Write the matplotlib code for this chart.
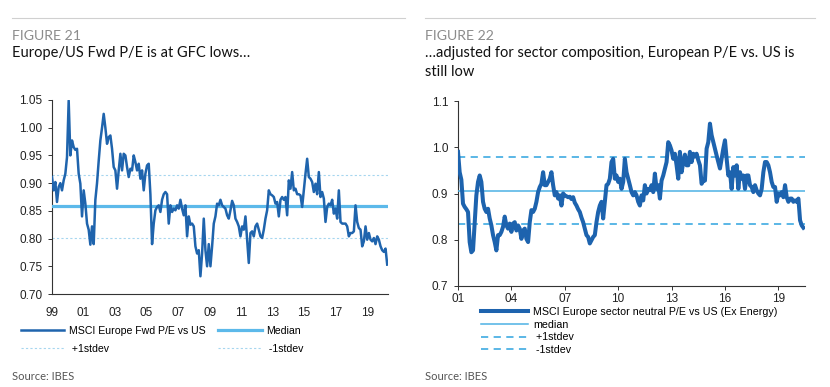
import numpy as np
import matplotlib.pyplot as plt
from matplotlib.lines import Line2D
from matplotlib.ticker import FormatStrFormatter

# Figure 21: MSCI Europe fwd P/E vs US, even steps from Jan 1999 to Apr 2020
eu_us_pe = [
    0.911, 0.887, 0.902, 0.866, 0.893, 0.900, 0.887, 0.905, 0.917, 0.947,
    1.049, 0.950, 0.977, 0.965, 0.960, 0.962, 0.917, 0.899, 0.840, 0.887,
    0.863, 0.827, 0.816, 0.789, 0.822, 0.790, 0.870, 0.900, 0.940, 0.977,
    1.000, 1.025, 1.000, 0.971, 0.983, 0.986, 0.962, 0.929, 0.923, 0.890,
    0.923, 0.953, 0.923, 0.953, 0.950, 0.929, 0.911, 0.926, 0.923, 0.950,
    0.938, 0.923, 0.935, 0.908, 0.923, 0.887, 0.917, 0.932, 0.935, 0.880,
    0.790, 0.827, 0.851, 0.857, 0.860, 0.848, 0.870, 0.880, 0.884, 0.880,
    0.827, 0.860, 0.848, 0.854, 0.851, 0.860, 0.854, 0.870, 0.854, 0.842,
    0.860, 0.804, 0.840, 0.825, 0.827, 0.822, 0.786, 0.773, 0.779, 0.732,
    0.773, 0.836, 0.779, 0.750, 0.790, 0.750, 0.786, 0.827, 0.840, 0.863,
    0.860, 0.870, 0.860, 0.857, 0.854, 0.842, 0.836, 0.851, 0.868, 0.860,
    0.836, 0.830, 0.822, 0.804, 0.822, 0.816, 0.840, 0.798, 0.756, 0.810,
    0.813, 0.804, 0.822, 0.827, 0.816, 0.804, 0.801, 0.816, 0.836, 0.851,
    0.887, 0.880, 0.878, 0.875, 0.863, 0.866, 0.840, 0.870, 0.875, 0.870,
    0.875, 0.842, 0.905, 0.890, 0.920, 0.887, 0.890, 0.880, 0.880, 0.878,
    0.857, 0.887, 0.917, 0.944, 0.911, 0.908, 0.902, 0.884, 0.899, 0.880,
    0.920, 0.875, 0.884, 0.872, 0.830, 0.857, 0.863, 0.860, 0.870, 0.845,
    0.854, 0.836, 0.887, 0.830, 0.827, 0.827, 0.827, 0.822, 0.804, 0.810,
    0.810, 0.813, 0.860, 0.830, 0.819, 0.816, 0.786, 0.795, 0.822, 0.798,
    0.810, 0.798, 0.795, 0.801, 0.790, 0.804, 0.798, 0.786, 0.779, 0.776,
    0.782, 0.753,
]
eu_us_start, eu_us_end = 1999.0, 2020.27
eu_us_median = 0.858
eu_us_plus_sd = 0.915
eu_us_minus_sd = 0.801
left_ticks = [1999, 2001, 2003, 2005, 2007, 2009, 2011, 2013, 2015, 2017, 2019]
left_labels = ['99', '01', '03', '05', '07', '09', '11', '13', '15', '17', '19']
left_yticks = [0.70, 0.75, 0.80, 0.85, 0.90, 0.95, 1.00, 1.05]

# Figure 22: sector neutral P/E vs US (ex energy), Jan 2001 to May 2020
sector_neutral_pe = [
    0.990, 0.946, 0.930, 0.878, 0.871, 0.866, 0.860, 0.795, 0.773, 0.777,
    0.838, 0.896, 0.925, 0.939, 0.925, 0.882, 0.867, 0.860, 0.867, 0.846,
    0.831, 0.810, 0.795, 0.777, 0.810, 0.810, 0.817, 0.828, 0.850, 0.831,
    0.824, 0.835, 0.817, 0.835, 0.838, 0.820, 0.831, 0.824, 0.802, 0.820,
    0.824, 0.802, 0.795, 0.838, 0.864, 0.860, 0.867, 0.882, 0.903, 0.914,
    0.921, 0.946, 0.918, 0.918, 0.925, 0.932, 0.946, 0.918, 0.896, 0.903,
    0.889, 0.896, 0.874, 0.900, 0.896, 0.894, 0.892, 0.893, 0.888, 0.892,
    0.880, 0.874, 0.866, 0.860, 0.848, 0.838, 0.824, 0.810, 0.806, 0.792,
    0.799, 0.806, 0.810, 0.838, 0.860, 0.874, 0.882, 0.846, 0.882, 0.918,
    0.921, 0.932, 0.968, 0.975, 0.932, 0.939, 0.925, 0.932, 0.910, 0.925,
    0.975, 0.946, 0.932, 0.918, 0.903, 0.896, 0.903, 0.896, 0.882, 0.874,
    0.896, 0.885, 0.918, 0.900, 0.910, 0.907, 0.918, 0.903, 0.943, 0.910,
    0.918, 0.889, 0.928, 0.939, 0.954, 0.968, 1.011, 1.004, 0.993, 0.975,
    0.986, 0.961, 0.932, 0.990, 0.946, 0.968, 0.984, 0.961, 0.961, 0.990,
    0.968, 0.986, 0.980, 0.986, 0.972, 0.961, 0.921, 0.928, 0.928, 0.997,
    1.011, 1.051, 1.026, 1.011, 0.997, 0.982, 0.968, 0.954, 0.975, 0.997,
    1.015, 0.975, 0.939, 0.946, 0.910, 0.957, 0.939, 0.961, 0.910, 0.946,
    0.932, 0.939, 0.910, 0.939, 0.939, 0.918, 0.914, 0.903, 0.918, 0.907,
    0.900, 0.896, 0.910, 0.946, 0.968, 0.968, 0.961, 0.946, 0.925, 0.914,
    0.914, 0.882, 0.900, 0.896, 0.903, 0.892, 0.918, 0.892, 0.882, 0.889,
    0.889, 0.882, 0.885, 0.882, 0.889, 0.842, 0.831, 0.826,
]
sn_start, sn_end = 2001.0, 2020.41
sn_median = 0.906
sn_plus_sd = 0.980
sn_minus_sd = 0.835
right_ticks = [2001, 2004, 2007, 2010, 2013, 2016, 2019]
right_labels = ['01', '04', '07', '10', '13', '16', '19']
right_yticks = [0.7, 0.8, 0.9, 1.0, 1.1]

W, H = 830, 387
tick_font = 'Liberation Sans'
head_font = 'Lato'

fig = plt.figure(figsize=(W / 100, H / 100), dpi=100)


def fx(px):
    return px / W


def fy(py):
    return 1 - py / H


def header(x0, x1, fig_label, title_lines, source):
    fig.add_artist(Line2D([fx(x0), fx(x1)], [fy(18), fy(18)],
                          color='#d0d0d0', lw=0.8))
    fig.text(fx(x0), fy(36), fig_label, family=head_font, fontsize=10.2,
             color='#8c8c8c', va='center')
    for i, line in enumerate(title_lines):
        fig.text(fx(x0), fy(53 + 19 * i), line, family=head_font,
                 fontsize=10.5, color='#111111', va='center')
    fig.text(fx(x0), fy(377), source, family=head_font, fontsize=8,
             color='#555555', va='center')


def style_axes(ax, xtick_len, xpad):
    for s in ['top', 'right']:
        ax.spines[s].set_visible(False)
    for s in ['left', 'bottom']:
        ax.spines[s].set_color('#333333')
        ax.spines[s].set_linewidth(0.8)
    ax.tick_params(axis='y', direction='out', length=3, width=0.7,
                   color='#333333', pad=4)
    ax.tick_params(axis='x', direction='out', length=xtick_len, width=0.7,
                   color='#333333', pad=xpad)
    for lab in ax.get_xticklabels() + ax.get_yticklabels():
        lab.set_family(tick_font)
        lab.set_fontsize(8.5)
        lab.set_color('#222222')


# ---- Figure 21 ----
header(12, 405, 'FIGURE 21', ['Europe/US Fwd P/E is at GFC lows…'],
       'Source: IBES')

ax1 = fig.add_axes([fx(52), fy(294), fx(388) - fx(52), fy(100) - fy(294)])
x1 = np.linspace(eu_us_start, eu_us_end, len(eu_us_pe))
l_pe, = ax1.plot(x1, eu_us_pe, color='#1f64ad', lw=1.8, zorder=4)
l_med = ax1.axhline(eu_us_median, color='#5cb9ea', lw=2.3, zorder=3)
l_up = ax1.axhline(eu_us_plus_sd, color='#a6d6ef', lw=0.8,
                   ls=(0, (2, 2)), zorder=2)
l_dn = ax1.axhline(eu_us_minus_sd, color='#a6d6ef', lw=0.8,
                   ls=(0, (2, 2)), zorder=2)
ax1.set_xlim(eu_us_start, eu_us_end + 0.05)
ax1.set_ylim(0.70, 1.05)
ax1.set_xticks(left_ticks)
ax1.set_xticklabels(left_labels)
ax1.set_yticks(left_yticks)
ax1.yaxis.set_major_formatter(FormatStrFormatter('%.2f'))
style_axes(ax1, 0, 9)

fig.legend([l_pe, l_up, l_med, l_dn],
           ['MSCI Europe Fwd P/E vs US', ' +1stdev', 'Median', ' -1stdev'],
           ncol=2, loc='upper left', bbox_to_anchor=(fx(21), fy(326)),
           frameon=False, borderpad=0, borderaxespad=0, handlelength=4.1,
           handletextpad=0.45, columnspacing=1.2, labelspacing=0.75,
           prop={'family': tick_font, 'size': 7.6})

# ---- Figure 22 ----
header(425, 815, 'FIGURE 22',
       ['…adjusted for sector composition, European P/E vs. US is',
        'still low'],
       'Source: IBES')

ax2 = fig.add_axes([fx(458), fy(286), fx(805) - fx(458), fy(101) - fy(286)])
x2 = np.linspace(sn_start, sn_end, len(sector_neutral_pe))
r_pe, = ax2.plot(x2, sector_neutral_pe, color='#1d63ae', lw=2.9, zorder=4,
                 solid_joinstyle='round')
r_med = ax2.axhline(sn_median, color='#4db1e4', lw=1.1, zorder=3)
r_up = ax2.axhline(sn_plus_sd, color='#4db1e4', lw=1.3,
                   ls=(0, (4, 3)), zorder=2)
r_dn = ax2.axhline(sn_minus_sd, color='#4db1e4', lw=1.3,
                   ls=(0, (4, 3)), zorder=2)
ax2.set_xlim(sn_start, 2020.5)
ax2.set_ylim(0.7, 1.1)
ax2.set_xticks(right_ticks)
ax2.set_xticklabels(right_labels)
ax2.set_yticks(right_yticks)
ax2.yaxis.set_major_formatter(FormatStrFormatter('%.1f'))
style_axes(ax2, 3, 2)

fig.legend([r_pe, r_med, r_up, r_dn],
           ['MSCI Europe sector neutral P/E vs US (Ex Energy)', 'median',
            ' +1stdev', ' -1stdev'],
           ncol=1, loc='upper left', bbox_to_anchor=(fx(481), fy(307)),
           frameon=False, borderpad=0, borderaxespad=0, handlelength=4.4,
           handletextpad=0.45, labelspacing=0.25,
           prop={'family': tick_font, 'size': 7.7})

fig.savefig('out.png', dpi=100)
